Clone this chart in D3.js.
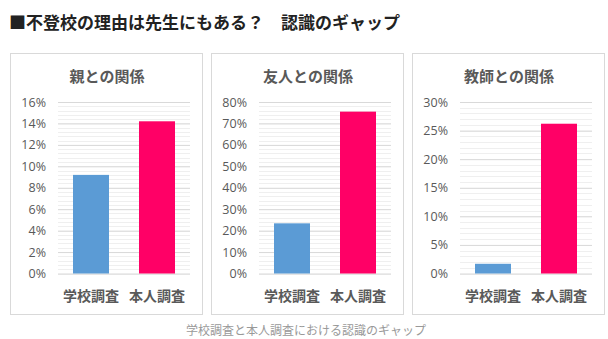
<!DOCTYPE html>
<html><head><meta charset="utf-8">
<script src="https://cdn.jsdelivr.net/npm/d3@7/dist/d3.min.js"></script>
<style>
html,body{margin:0;padding:0;background:#fff;}
svg{display:block;}
</style></head>
<body>
<svg id="c" width="608" height="339"></svg>
<script>
const mainTitle = "■不登校の理由は先生にもある？　認識のギャップ";
const caption = "学校調査と本人調査における認識のギャップ";
const categories = ["学校調査", "本人調査"];
const panelTitles = ["親との関係", "友人との関係", "教師との関係"];
const parentValues = [9.2, 14.2];
const friendValues = [23.4, 75.5];
const teacherValues = [1.7, 26.2];
const yMaxes = [16, 80, 30];
const yStepsMajor = [2, 10, 5];
const barColors = ["#5b9bd5", "#ff0066"];

const panels = [
  {title: panelTitles[0], values: parentValues, max: yMaxes[0], step: yStepsMajor[0]},
  {title: panelTitles[1], values: friendValues, max: yMaxes[1], step: yStepsMajor[1]},
  {title: panelTitles[2], values: teacherValues, max: yMaxes[2], step: yStepsMajor[2]}
];

const svg = d3.select("#c");
const jp = "'Noto Sans CJK JP','Noto Sans',sans-serif";

svg.append("text").attr("x", 9).attr("y", 29)
  .attr("font-family", jp).attr("font-weight", "bold").attr("font-size", 17)
  .attr("fill", "#222").text(mainTitle);

const panelW = 192, panelH = 261, panelY = 53, gap = 9, x0 = 10;

panels.forEach((p, i) => {
  const px = x0 + i * (panelW + gap);
  const g = svg.append("g").attr("transform", `translate(${px},${panelY})`);
  g.append("rect").attr("x", 0.5).attr("y", 0.5).attr("width", panelW).attr("height", panelH)
    .attr("fill", "#fff").attr("stroke", "#d9d9d9");
  g.append("text").attr("x", panelW / 2 + 1).attr("y", 29).attr("text-anchor", "middle")
    .attr("font-family", jp).attr("font-size", 15).attr("font-weight", "bold").attr("fill", "#595959")
    .text(p.title);

  const left = 48, right = panelW - 12, top = 49, bottom = 220.5;
  const y = d3.scaleLinear().domain([0, p.max]).range([bottom, top]);
  const x = d3.scaleBand().domain(categories).range([left, right])
    .paddingInner(30 / 66).paddingOuter(15 / 66);

  const minorTicks = d3.range(0, p.max + 1e-9, p.step / 5);
  g.append("g").selectAll("line").data(minorTicks).join("line")
    .attr("x1", left).attr("x2", right)
    .attr("y1", d => Math.round(y(d)) + 0.5).attr("y2", d => Math.round(y(d)) + 0.5)
    .attr("stroke", "#efefef").attr("stroke-width", 1);

  const majorTicks = d3.range(0, p.max + 1e-9, p.step);
  const axis = d3.axisLeft(y).tickValues(majorTicks).tickSize(-(right - left)).tickPadding(6)
    .tickFormat(d => d + "%");
  const ag = g.append("g").attr("transform", `translate(${left},0)`).call(axis);
  ag.select(".domain").remove();
  ag.selectAll(".tick line").attr("stroke", "#d9d9d9");
  ag.selectAll(".tick text").attr("fill", "#595959").attr("font-size", 12.5)
    .attr("font-family", "'Open Sans','Noto Sans',sans-serif").attr("x", -12);

  g.append("g").selectAll("rect").data(p.values).join("rect")
    .attr("x", (d, j) => x(categories[j]))
    .attr("width", x.bandwidth())
    .attr("y", d => y(d))
    .attr("height", d => bottom - y(d))
    .attr("fill", (d, j) => barColors[j]);

  const xa = d3.axisBottom(x).tickSize(0).tickPadding(18);
  const xg = g.append("g").attr("transform", `translate(0,${bottom})`).call(xa);
  xg.select(".domain").remove();
  xg.selectAll(".tick text").attr("fill", "#595959").attr("font-size", 14)
    .attr("font-weight", "bold").attr("font-family", jp);
});

svg.append("text").attr("x", 306).attr("y", 335).attr("text-anchor", "middle")
  .attr("font-family", jp).attr("font-size", 12).attr("fill", "#999")
  .text(caption);
</script>
</body></html>
